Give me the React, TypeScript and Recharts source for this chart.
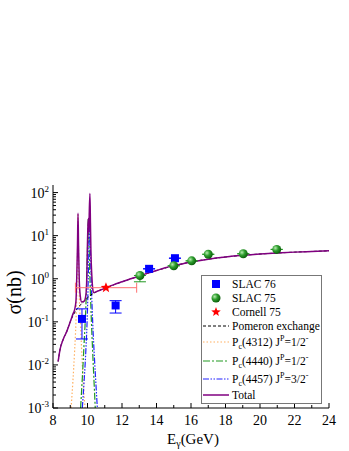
import { ComposedChart, Line, Scatter, XAxis, YAxis, ErrorBar, Legend } from 'recharts';

const FONT = 'Liberation Serif, DejaVu Serif, serif';

// Total cross section (purple)
const totalE = [8.3, 8.4, 8.6, 8.8, 9.0, 9.15, 9.25, 9.33, 9.38, 9.42, 9.45, 9.48, 9.52, 9.58, 9.66, 9.8, 9.9, 9.95, 9.98, 10.02, 10.05, 10.08, 10.1, 10.14, 10.17, 10.2, 10.25, 10.3, 10.35, 10.6, 11, 11.5, 12, 12.5, 13, 13.5, 14, 14.5, 15, 16, 17, 18, 19, 20, 21, 22, 23, 24];
const totalSigma = [0.012, 0.022, 0.04, 0.06, 0.1, 0.15, 0.19, 0.3, 1.2, 6, 33, 6, 1.0, 0.4, 0.29, 0.3, 0.4, 0.8, 3, 15, 25, 12, 30, 95, 20, 4, 1.2, 0.6, 0.48, 0.52, 0.6, 0.72, 0.85, 1.0, 1.15, 1.35, 1.55, 1.8, 2.0, 2.45, 2.85, 3.2, 3.5, 3.75, 3.95, 4.15, 4.3, 4.45];

// Pomeron exchange (black dashed)
const pomE = [8.3, 8.4, 8.6, 8.8, 9.0, 9.2, 9.4, 9.6, 9.8, 10.0, 10.2, 10.4, 10.6, 11, 12, 13, 14, 15, 16, 17, 18, 19, 20, 21, 22, 23, 24];
const pomSigma = [0.012, 0.022, 0.04, 0.06, 0.1, 0.15, 0.2, 0.25, 0.3, 0.36, 0.42, 0.47, 0.52, 0.6, 0.85, 1.15, 1.55, 2.0, 2.45, 2.85, 3.2, 3.5, 3.75, 3.95, 4.15, 4.3, 4.45];

// Pc(4312) 1/2-
const pc4312E = [9.05, 9.15, 9.25, 9.33, 9.38, 9.42, 9.45, 9.48, 9.52, 9.6, 9.7, 9.8, 9.86];
const pc4312Sigma = [0.001, 0.004, 0.02, 0.1, 0.5, 4, 30, 4, 0.5, 0.08, 0.01, 0.002, 0.001];

// Pc(4440) 1/2-
const pc4440E = [9.6, 9.7, 9.8, 9.9, 9.97, 10.02, 10.05, 10.08, 10.13, 10.2, 10.3, 10.38, 10.45];
const pc4440Sigma = [0.001, 0.005, 0.03, 0.2, 1.5, 10, 25, 10, 1.5, 0.2, 0.02, 0.004, 0.001];

// Pc(4457) 3/2-
const pc4457E = [9.7, 9.8, 9.9, 10.0, 10.06, 10.1, 10.12, 10.15, 10.2, 10.3, 10.4, 10.5, 10.57];
const pc4457Sigma = [0.001, 0.004, 0.02, 0.2, 2, 12, 22, 10, 1.5, 0.1, 0.015, 0.003, 0.001];

// SLAC 76
const slac76E = [9.68, 11.63, 13.57, 15.07];
const slac76Sigma = [0.117, 0.24, 1.7, 3.0];
const slac76Low = [0.04, 0.16, 1.7, 3.0];
const slac76High = [0.2, 0.31, 1.7, 3.0];

// SLAC 75
const slac75E = [13.04, 15.0, 16.04, 17.0, 19.03, 20.97];
const slac75Sigma = [1.19, 2.0, 2.6, 3.7, 3.8, 4.8];
const slac75Low = [0.85, 2.0, 2.6, 3.7, 3.8, 4.8];

// Cornell 75
const cornellE = [11.07];
const cornellSigma = [0.62];
const cornellELow = [9.3];
const cornellEHigh = [12.85];

const xTicks = [8, 9, 10, 11, 12, 13, 14, 15, 16, 17, 18, 19, 20, 21, 22, 23, 24];
const yMajor = [0.001, 0.01, 0.1, 1, 10, 100];
const yTicks = yMajor.flatMap((d) => (d < 100 ? [2, 3, 4, 5, 6, 7, 8, 9].map((m) => +(d * m).toPrecision(3)) : [])).concat(yMajor).sort((a, b) => a - b);

const toRows = (xs: number[], ys: number[]) => xs.map((x, i) => ({ x, y: ys[i] }));

const totalData = toRows(totalE, totalSigma);
const pomData = toRows(pomE, pomSigma);
const pc4312Data = toRows(pc4312E, pc4312Sigma);
const pc4440Data = toRows(pc4440E, pc4440Sigma);
const pc4457Data = toRows(pc4457E, pc4457Sigma);
const slac76Data = slac76E.map((x, i) => ({ x, y: slac76Sigma[i], ey: [slac76Sigma[i] - slac76Low[i], slac76High[i] - slac76Sigma[i]] }));
const slac75Data = slac75E.map((x, i) => ({ x, y: slac75Sigma[i], ey: [slac75Sigma[i] - slac75Low[i], 0] }));
const cornellData = cornellE.map((x, i) => ({ x, y: cornellSigma[i], ex: [x - cornellELow[i], cornellEHigh[i] - x] }));

const isMajorY = (v: number) => Math.abs(Math.log10(v) - Math.round(Math.log10(v))) < 1e-6;

const txt = (size: number) => ({ style: { fontFamily: FONT, fontSize: size }, fill: '#000' });

function BottomTick({ x, y, payload }: any) {
  const major = payload.value % 2 === 0;
  return (
    <g>
      <line x1={x} y1={y} x2={x} y2={y - (major ? 5 : 3)} stroke="#000" />
      {major && (
        <text x={x} y={y + 17} textAnchor="middle" {...txt(14)}>{payload.value}</text>
      )}
    </g>
  );
}

function TopTick({ x, y, payload }: any) {
  const major = payload.value % 2 === 0;
  return <line x1={x} y1={y} x2={x} y2={y + (major ? 5 : 3)} stroke="#000" />;
}

function LeftTick({ x, y, payload }: any) {
  const major = isMajorY(payload.value);
  const exp = Math.round(Math.log10(payload.value));
  return (
    <g>
      <line x1={x} y1={y} x2={x + (major ? 5 : 3)} y2={y} stroke="#000" />
      {major && (
        <text x={x - 4} y={y + 5} textAnchor="end" {...txt(14)}>
          10<tspan dy={-6} style={{ fontSize: 9 }}>{exp}</tspan>
        </text>
      )}
    </g>
  );
}

function RightTick({ x, y, payload }: any) {
  const major = isMajorY(payload.value);
  return <line x1={x} y1={y} x2={x - (major ? 5 : 3)} y2={y} stroke="#000" />;
}

function Square({ cx, cy }: any) {
  return <rect x={cx - 4} y={cy - 4} width={8} height={8} fill="#0000ff" />;
}

function Ball({ cx, cy }: any) {
  return (
    <g>
      <defs>
        <radialGradient id="ballGrad" cx="35%" cy="35%" r="70%">
          <stop offset="0%" stopColor="#b8ecb0" />
          <stop offset="45%" stopColor="#2f9f2f" />
          <stop offset="100%" stopColor="#075807" />
        </radialGradient>
      </defs>
      <circle cx={cx} cy={cy} r={4.5} fill="url(#ballGrad)" />
    </g>
  );
}

function Star({ cx, cy, r = 5.5 }: any) {
  const pts: string[] = [];
  for (let i = 0; i < 10; i++) {
    const rad = i % 2 === 0 ? r : r * 0.42;
    const a = -Math.PI / 2 + (i * Math.PI) / 5;
    pts.push(`${cx + rad * Math.cos(a)},${cy + rad * Math.sin(a)}`);
  }
  return <polygon points={pts.join(' ')} fill="#ff0000" />;
}

function XLabel({ viewBox }: any) {
  const cx = viewBox.x + viewBox.width / 2;
  return (
    <text x={cx + 2} y={viewBox.y + 36} textAnchor="middle" {...txt(15)}>
      E<tspan dy={3} style={{ fontSize: 10 }}>γ</tspan>
      <tspan dy={-3}>(GeV)</tspan>
    </text>
  );
}

function YLabel({ viewBox }: any) {
  const cy = viewBox.y + viewBox.height / 2 - 4;
  return (
    <text x={21} y={cy} transform={`rotate(-90 21 ${cy})`} textAnchor="middle" {...txt(20)}>
      σ(nb)
    </text>
  );
}

function LegendBox() {
  const tx = 31;
  const font = txt(11.5);
  const pc = (mass: string, spin: string, y: number) => (
    <text x={tx} y={y + 4} {...font}>
      P<tspan dy={3} style={{ fontSize: 8 }}>c</tspan>
      <tspan dy={-3}>({mass}) J</tspan>
      <tspan dy={-5} style={{ fontSize: 8 }}>P</tspan>
      <tspan dy={5}>={spin}</tspan>
      <tspan dy={-5} style={{ fontSize: 8 }}>-</tspan>
    </text>
  );
  return (
    <svg width={121} height={129} style={{ display: 'block' }}>
      <rect x={0.5} y={0.5} width={120} height={128} fill="#fff" stroke="#777" />
      <Square cx={15} cy={9} />
      <text x={tx} y={13} {...font}>SLAC 76</text>
      <Ball cx={15} cy={23} />
      <text x={tx} y={27} {...font}>SLAC 75</text>
      <Star cx={15} cy={37} r={5} />
      <text x={tx} y={41} {...font}>Cornell 75</text>
      <line x1={2} x2={28} y1={51} y2={51} stroke="#000" strokeDasharray="3 2" />
      <text x={tx} y={55} {...font}>Pomeron exchange</text>
      <line x1={2} x2={28} y1={67} y2={67} stroke="#ffb060" strokeWidth={1.2} strokeDasharray="1.5 2" />
      {pc('4312', '1/2', 67)}
      <line x1={2} x2={28} y1={86} y2={86} stroke="#229922" strokeWidth={1.2} strokeDasharray="7 2 2 2" />
      {pc('4440', '1/2', 86)}
      <line x1={2} x2={28} y1={104} y2={104} stroke="#2222ff" strokeWidth={1.2} strokeDasharray="6 1.5 1.5 1.5 1.5 1.5" />
      {pc('4457', '3/2', 104)}
      <line x1={2} x2={28} y1={120} y2={120} stroke="#800080" strokeWidth={1.5} />
      <text x={tx} y={124} {...font}>Total</text>
    </svg>
  );
}

export default function App() {
  return (
    <div style={{ position: 'absolute', left: 0, top: 0, fontFamily: FONT, background: '#fff' }}>
      <ComposedChart width={349} height={451} margin={{ top: 185, right: 20, bottom: 13, left: 8 }}>
        <XAxis
          xAxisId="b"
          dataKey="x"
          type="number"
          domain={[8, 24]}
          allowDataOverflow
          ticks={xTicks}
          interval={0}
          tickSize={0}
          tickMargin={0}
          tickLine={false}
          height={30}
          axisLine={{ stroke: '#000' }}
          tick={<BottomTick />}
          label={<XLabel />}
        />
        <XAxis
          xAxisId="t"
          orientation="top"
          type="number"
          domain={[8, 24]}
          allowDataOverflow
          ticks={xTicks}
          interval={0}
          tickSize={0}
          tickMargin={0}
          tickLine={false}
          height={0}
          axisLine={{ stroke: '#000' }}
          tick={<TopTick />}
        />
        <YAxis
          yAxisId="l"
          dataKey="y"
          scale="log"
          type="number"
          domain={[0.001, 150]}
          allowDataOverflow
          ticks={yTicks}
          interval={0}
          tickSize={0}
          tickMargin={0}
          tickLine={false}
          width={45}
          axisLine={{ stroke: '#000' }}
          tick={<LeftTick />}
          label={<YLabel />}
        />
        <YAxis
          yAxisId="r"
          orientation="right"
          scale="log"
          type="number"
          domain={[0.001, 150]}
          allowDataOverflow
          ticks={yTicks}
          interval={0}
          tickSize={0}
          tickMargin={0}
          tickLine={false}
          width={0}
          axisLine={{ stroke: '#000' }}
          tick={<RightTick />}
        />
        <Line xAxisId="b" yAxisId="l" data={pc4312Data} dataKey="y" type="monotone" stroke="#ffb060" strokeWidth={1.2} strokeDasharray="1.5 2" dot={false} isAnimationActive={false} />
        <Line xAxisId="b" yAxisId="l" data={pc4440Data} dataKey="y" type="monotone" stroke="#229922" strokeWidth={1.2} strokeDasharray="7 2 2 2" dot={false} isAnimationActive={false} />
        <Line xAxisId="b" yAxisId="l" data={pc4457Data} dataKey="y" type="monotone" stroke="#2222ff" strokeWidth={1.2} strokeDasharray="6 1.5 1.5 1.5 1.5 1.5" dot={false} isAnimationActive={false} />
        <Line xAxisId="b" yAxisId="l" data={pomData} dataKey="y" type="monotone" stroke="#000" strokeWidth={1} strokeDasharray="3 2" dot={false} isAnimationActive={false} />
        <Line xAxisId="b" yAxisId="l" data={totalData} dataKey="y" type="monotone" stroke="#800080" strokeWidth={1.5} dot={false} isAnimationActive={false} />
        <Scatter xAxisId="b" yAxisId="l" data={cornellData} dataKey="y" shape={<Star />} isAnimationActive={false}>
          <ErrorBar dataKey="ex" direction="x" width={5} stroke="#ff7070" strokeWidth={1} />
        </Scatter>
        <Scatter xAxisId="b" yAxisId="l" data={slac76Data} dataKey="y" shape={<Square />} isAnimationActive={false}>
          <ErrorBar dataKey="ey" direction="y" width={6} stroke="#0000ff" strokeWidth={1} />
        </Scatter>
        <Scatter xAxisId="b" yAxisId="l" data={slac75Data} dataKey="y" shape={<Ball />} isAnimationActive={false}>
          <ErrorBar dataKey="ey" direction="y" width={6} stroke="#229922" strokeWidth={1} />
        </Scatter>
        <Legend
          layout="vertical"
          align="center"
          verticalAlign="middle"
          content={() => <LegendBox />}
          wrapperStyle={{ left: 201, top: 275, width: 121, height: 129 }}
        />
      </ComposedChart>
    </div>
  );
}
